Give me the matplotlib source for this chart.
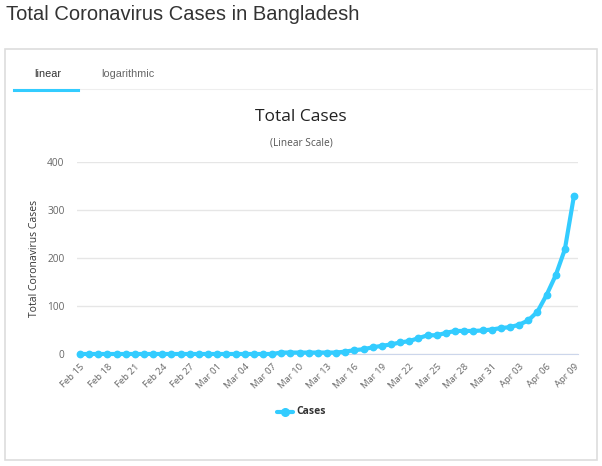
import matplotlib
matplotlib.use("Agg")
import matplotlib.pyplot as plt
from matplotlib.patches import Rectangle
from matplotlib.lines import Line2D
import datetime as dt

start = dt.date(2020, 2, 15)
dates = [start + dt.timedelta(days=i) for i in range(55)]
date_labels = [d.strftime("%b %d") for d in dates]
cases = [0]*22 + [3, 3, 3, 3, 3, 3, 3, 5, 8, 10, 14, 17, 20, 24, 27, 33, 39, 39,
                  44, 48, 48, 48, 49, 51, 54, 56, 61, 70, 88, 123, 164, 218, 330]
yticks = [0, 100, 200, 300, 400]

W, H = 602, 466
fig = plt.figure(figsize=(W/100, H/100), dpi=100)
fig.patch.set_facecolor("white")

def fx(px): return px / W
def fy(py): return 1 - py / H

# page title
fig.text(fx(6), fy(15), "Total Coronavirus Cases in Bangladesh", fontsize=14.5,
         family="Liberation Sans", color="#333333", va="center", ha="left")
# outer box
fig.patches.append(Rectangle((fx(5), fy(460)), fx(592), (460-49)/H, transform=fig.transFigure,
                             fill=False, edgecolor="#dddddd", linewidth=1.2))
# tabs
fig.text(fx(48), fy(74), "linear", fontsize=7.8, family="Liberation Sans", color="#333333",
         ha="center", va="center")
fig.text(fx(128), fy(74), "logarithmic", fontsize=7.8, family="Liberation Sans", color="#666666",
         ha="center", va="center")
fig.lines.append(Line2D([fx(14), fx(592)], [fy(89), fy(89)], transform=fig.transFigure,
                        color="#eeeeee", linewidth=0.8))
fig.lines.append(Line2D([fx(14), fx(78)], [fy(90), fy(90)], transform=fig.transFigure,
                        color="#33ccff", linewidth=2.2))

# chart title
fig.text(fx(301), fy(117), "Total Cases", fontsize=12.5, family="Open Sans", color="#222222",
         ha="center", va="center")
fig.text(fx(301), fy(143), "(Linear Scale)", fontsize=7.3, family="Open Sans", color="#555555",
         ha="center", va="center")

ax = fig.add_axes([fx(77), fy(354), (578-77)/W, (354-162)/H])
x = list(range(len(cases)))
ax.plot(x, cases, color="#33ccff", linewidth=3.0, marker="o", markersize=4.6,
        solid_capstyle="round", zorder=3, clip_on=False)
px_per = (574 - 80) / 54
ax.set_xlim(-3/px_per, 54 + 4/px_per)
ax.set_ylim(0, 400)
ax.set_yticks(yticks)
ax.set_yticklabels([str(v) for v in yticks], fontsize=7.3, color="#666666", family="Open Sans")
ax.yaxis.grid(True, color="#e6e6e6", linewidth=1)
ax.set_axisbelow(True)
ax.tick_params(axis="y", length=0, pad=9)
ticks = list(range(0, 55, 3))
ax.set_xticks(ticks)
ax.set_xticklabels([date_labels[i] for i in ticks], rotation=45, ha="right",
                   rotation_mode="anchor", fontsize=6.8, color="#666666", family="Open Sans")
ax.tick_params(axis="x", length=0, pad=6)
for s in ["top", "right", "left"]:
    ax.spines[s].set_visible(False)
ax.spines["bottom"].set_color("#ccd6eb")
ax.set_ylabel("Total Coronavirus Cases", fontsize=7.5, color="#333333", family="Open Sans")
ax.yaxis.set_label_coords(-0.074, 0.5)

# legend
fig.lines.append(Line2D([fx(277), fx(293)], [fy(412), fy(412)], transform=fig.transFigure,
                        color="#33ccff", linewidth=3.0, solid_capstyle="round"))
fig.lines.append(Line2D([fx(285)], [fy(412)], transform=fig.transFigure,
                        color="#33ccff", marker="o", markersize=5.5, linestyle="none"))
fig.text(fx(296), fy(412), "Cases", fontsize=7.5, fontweight="bold", family="Open Sans",
         color="#333333", ha="left", va="center")

fig.savefig("out.png", dpi=100)
